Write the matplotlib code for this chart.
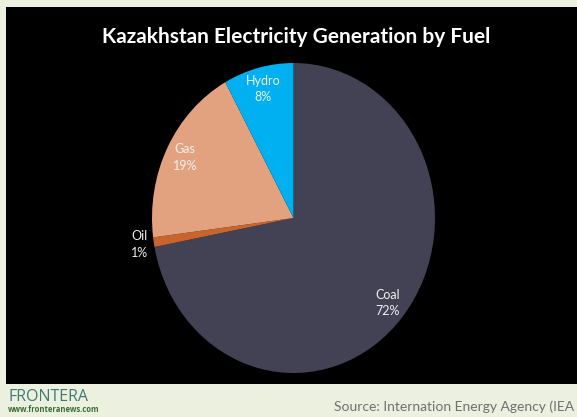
import numpy as np
import matplotlib.pyplot as plt
from matplotlib.patches import Rectangle

# data
fuels = ["Coal", "Oil", "Gas", "Hydro"]
shares = [72, 1, 19, 8]
colors = ["#424254", "#c8642e", "#e2a27f", "#00b0f0"]

title = "Kazakhstan Electricity Generation by Fuel"
source = "Source: Internation Energy Agency (IEA"

W, H = 577, 417
fig = plt.figure(figsize=(W / 100, H / 100), dpi=100)
fig.patch.set_facecolor("#ebf1de")

# black chart panel, behind the pie axes
fig.patches.append(Rectangle((6 / W, 1 - 384 / H), 1, (384 - 7) / H,
                             transform=fig.transFigure, facecolor="black",
                             edgecolor="none", zorder=-1))

fig.text(296 / W, 1 - 37 / H, title, color="white", fontsize=15,
         fontweight="bold", family="Lato", ha="center", va="center")

# pie area (slightly taller than wide like the original)
ax = fig.add_axes([152 / W, 1 - 373 / H, 283 / W, 310 / H])
labels = [f"{f}\n{s}%" for f, s in zip(fuels, shares)]
wedges, texts = ax.pie(shares, labels=labels, colors=colors, startangle=90,
                       counterclock=False, labeldistance=0.86,
                       textprops=dict(color="#f0f0f0", fontsize=9,
                                      family="Lato", linespacing=1.45))
for t in texts:
    t.set_ha("center")
    t.set_va("center")

# Oil label sits outside the pie
oil = fuels.index("Oil")
w = wedges[oil]
ang = np.deg2rad((w.theta1 + w.theta2) / 2)
texts[oil].set_position((1.1 * np.cos(ang), 1.1 * np.sin(ang)))

ax.set_aspect("auto")
ax.set_xlim(-1, 1)
ax.set_ylim(-1, 1)
ax.axis("off")

# footer
fig.text(8 / W, 1 - 397 / H, "FRONTERA", color="#3f7a74", fontsize=11.5,
         family="Open Sans", ha="left", va="center")
fig.text(8 / W, 1 - 409 / H, "www.fronteranews.com", color="#3c6b33",
         fontsize=5.5, fontweight="bold", family="Open Sans", ha="left",
         va="center")
fig.text(574 / W, 1 - 407 / H, source, color="#707070", fontsize=10,
         family="Lato", ha="right", va="center")

fig.savefig("out.png", dpi=100, facecolor=fig.get_facecolor())
